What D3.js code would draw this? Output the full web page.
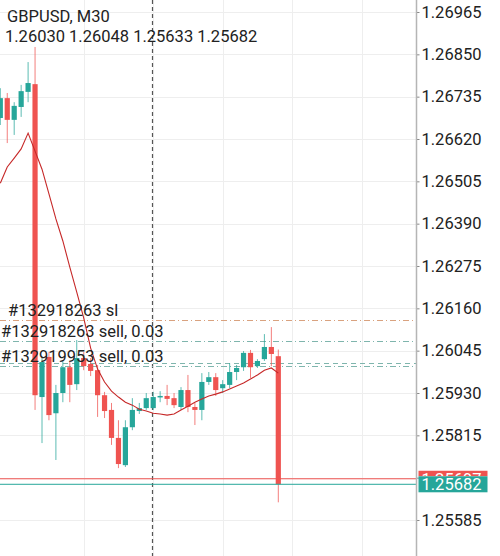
<!DOCTYPE html>
<html>
<head>
<meta charset="utf-8">
<script src="https://cdn.jsdelivr.net/npm/d3@7"></script>
<style>
  html, body { margin: 0; padding: 0; background: #fff; }
  svg { display: block; font-family: Roboto, "Noto Sans", sans-serif; }
</style>
</head>
<body>
<div id="chart"></div>
<script>
// GBPUSD M30 candles, oldest first
const opens  = [1.26677, 1.26731, 1.26672, 1.26707, 1.26748, 1.26769, 1.25919, 1.26028, 1.25875, 1.25930,
                1.26000, 1.25954, 1.26025, 1.26009, 1.25992, 1.25924, 1.25884, 1.25808, 1.25734, 1.25837,
                1.25881, 1.25889, 1.25889, 1.25919, 1.25922, 1.25916, 1.25892, 1.25938, 1.25892, 1.25884,
                1.25960, 1.25973, 1.25943, 1.25952, 1.25987, 1.26000, 1.26039, 1.26003, 1.26022, 1.26055,
                1.26030];
const highs  = [1.26758, 1.26745, 1.26720, 1.26767, 1.26829, 1.26870, 1.26025, 1.26041, 1.25952, 1.26019,
                1.26014, 1.26074, 1.26041, 1.26025, 1.26006, 1.25933, 1.25903, 1.25856, 1.25856, 1.25916,
                1.25903, 1.25930, 1.25933, 1.25935, 1.25952, 1.25930, 1.25946, 1.25979, 1.25903, 1.25984,
                1.25987, 1.25984, 1.25965, 1.26011, 1.26006, 1.26044, 1.26047, 1.26022, 1.26090, 1.26109,
                1.26048];
const lows   = [1.26658, 1.26609, 1.26631, 1.26680, 1.26720, 1.25884, 1.25794, 1.25856, 1.25748, 1.25905,
                1.25905, 1.25938, 1.25992, 1.25976, 1.25865, 1.25862, 1.25789, 1.25726, 1.25729, 1.25829,
                1.25873, 1.25884, 1.25884, 1.25905, 1.25897, 1.25889, 1.25884, 1.25878, 1.25843, 1.25856,
                1.25952, 1.25922, 1.25930, 1.25943, 1.25965, 1.25990, 1.25971, 1.25998, 1.26017, 1.26003,
                1.25633];
const closes = [1.26731, 1.26672, 1.26710, 1.26750, 1.26772, 1.25924, 1.26014, 1.25870, 1.25930, 1.26000,
                1.25952, 1.26025, 1.26003, 1.25990, 1.25924, 1.25881, 1.25808, 1.25737, 1.25837, 1.25884,
                1.25889, 1.25916, 1.25919, 1.25922, 1.25914, 1.25897, 1.25938, 1.25892, 1.25884, 1.25960,
                1.25973, 1.25938, 1.25954, 1.25987, 1.25998, 1.26039, 1.26000, 1.26017, 1.26055, 1.26036,
                1.25682];
// moving average drawn in red
const maValues = [1.26500, 1.26544, 1.26568, 1.26593, 1.26636, 1.26587, 1.26538, 1.26471, 1.26403, 1.26343,
                  1.26272, 1.26204, 1.26134, 1.26052, 1.25995, 1.25960, 1.25935, 1.25919, 1.25905, 1.25897,
                  1.25886, 1.25881, 1.25875, 1.25873, 1.25870, 1.25873, 1.25884, 1.25894, 1.25905, 1.25914,
                  1.25922, 1.25927, 1.25933, 1.25941, 1.25949, 1.25957, 1.25968, 1.25979, 1.25992, 1.25998,
                  1.25984];

const priceTicks = [1.26965, 1.26850, 1.26735, 1.26620, 1.26505, 1.26390, 1.26275,
                    1.26160, 1.26045, 1.25930, 1.25815, 1.25700, 1.25585];
// tick hidden behind the price tags
const hiddenTick = 1.25700;

// trade lines
const orderPrices = [1.26127, 1.26071, 1.26012, 1.26002];
const orderLabels = ["#132918263 sl", "#132918263 sell, 0.03", "", "#132919953 sell, 0.03"];
const orderKinds  = ["sl", "sell", "sell2", "sell"];

const askPrice = 1.25697;
const bidPrice = 1.25682;
const gridIndices = [12, 22, 32, 42, 52];
const separatorIndex = 21.8;

const title = "GBPUSD, M30";
const ohlcText = "1.26030 1.26048 1.25633 1.25682";

const W = 500, H = 556;
const axisX = 416.5;
const up = "#26a69a", down = "#ef5350";
const fontSize = 16.5;

const svg = d3.select("#chart").append("svg")
  .attr("width", W)
  .attr("height", H);

const x = d3.scaleLinear().domain([0, 40]).range([0.3, 278.3]);
const y = d3.scaleLinear().domain([1.25585, 1.26965]).range([520, 12]);

// faint grid
svg.append("g")
  .selectAll("line")
  .data(priceTicks)
  .join("line")
  .attr("x1", 0).attr("x2", axisX)
  .attr("y1", d => Math.round(y(d)) + 0.5)
  .attr("y2", d => Math.round(y(d)) + 0.5)
  .attr("stroke", "#eeeeee");

svg.append("g")
  .selectAll("line")
  .data(gridIndices)
  .join("line")
  .attr("x1", d => Math.round(x(d)) + 0.5)
  .attr("x2", d => Math.round(x(d)) + 0.5)
  .attr("y1", 0).attr("y2", H)
  .attr("stroke", "#eeeeee");

// period separator
svg.append("line")
  .attr("x1", Math.round(x(separatorIndex)) + 0.5)
  .attr("x2", Math.round(x(separatorIndex)) + 0.5)
  .attr("y1", 0).attr("y2", H)
  .attr("stroke", "#555")
  .attr("stroke-width", 1.2)
  .attr("stroke-dasharray", "4,3");

// order lines
const lineStyle = {
  sl:    { color: "#d9a27f", dash: "6,3,1,3" },
  sell:  { color: "#7fb5ad", dash: "6,3,1,3" },
  sell2: { color: "#7fb5ad", dash: "5,4" }
};
svg.append("g")
  .selectAll("line")
  .data(orderPrices)
  .join("line")
  .attr("x1", 0).attr("x2", axisX)
  .attr("y1", d => Math.round(y(d)) + 0.5)
  .attr("y2", d => Math.round(y(d)) + 0.5)
  .attr("stroke", (d, i) => lineStyle[orderKinds[i]].color)
  .attr("stroke-width", 1.2)
  .attr("stroke-dasharray", (d, i) => lineStyle[orderKinds[i]].dash);

// candles
const idx = d3.range(opens.length);
const candles = svg.append("g");
candles.selectAll("line")
  .data(idx)
  .join("line")
  .attr("x1", i => x(i)).attr("x2", i => x(i))
  .attr("y1", i => y(highs[i])).attr("y2", i => y(lows[i]))
  .attr("stroke", i => closes[i] >= opens[i] ? up : down)
  .attr("stroke-opacity", 0.75)
  .attr("stroke-width", 1);

candles.selectAll("rect")
  .data(idx)
  .join("rect")
  .attr("x", i => x(i) - 2.6)
  .attr("width", 5.2)
  .attr("y", i => y(Math.max(opens[i], closes[i])))
  .attr("height", i => Math.max(1.5, Math.abs(y(opens[i]) - y(closes[i]))))
  .attr("fill", i => closes[i] >= opens[i] ? up : down);

// moving average
svg.append("path")
  .datum(maValues)
  .attr("d", d3.line().x((d, i) => x(i)).y(d => y(d)))
  .attr("fill", "none")
  .attr("stroke", "#c62828")
  .attr("stroke-width", 1.1);

// order labels
svg.append("g")
  .selectAll("text")
  .data(orderPrices)
  .join("text")
  .attr("x", (d, i) => orderKinds[i] === "sl" ? 8 : 1)
  .attr("y", d => y(d) - 4.5)
  .attr("font-size", fontSize)
  .attr("fill", "#222")
  .text((d, i) => orderLabels[i]);

// ask / bid lines
svg.append("line")
  .attr("x1", 0).attr("x2", axisX)
  .attr("y1", y(askPrice)).attr("y2", y(askPrice))
  .attr("stroke", down).attr("stroke-width", 1);
svg.append("line")
  .attr("x1", 0).attr("x2", axisX)
  .attr("y1", y(bidPrice)).attr("y2", y(bidPrice))
  .attr("stroke", up).attr("stroke-width", 1);

// right price axis
svg.append("rect")
  .attr("x", axisX).attr("y", 0)
  .attr("width", W - axisX).attr("height", H)
  .attr("fill", "#fff");

const axis = svg.append("g")
  .attr("transform", `translate(${axisX},0)`)
  .call(d3.axisRight(y).tickValues(priceTicks).tickFormat(d3.format(".5f")).tickSize(3).tickPadding(2));
axis.select(".domain").remove();
axis.selectAll(".tick line").attr("stroke", "#888");
axis.selectAll(".tick text")
  .attr("font-size", fontSize)
  .attr("font-family", "Roboto, sans-serif")
  .attr("fill", "#222")
  .text(d => d === hiddenTick ? "" : d3.format(".5f")(d));

svg.append("line")
  .attr("x1", axisX).attr("x2", axisX)
  .attr("y1", 0).attr("y2", H)
  .attr("stroke", "#b5b5b5")
  .attr("stroke-width", 1.5);

// price tags: ask tag mostly covered by the bid tag
svg.append("defs").append("clipPath")
  .attr("id", "askClip")
  .append("rect")
  .attr("x", axisX).attr("y", 0)
  .attr("width", W - axisX).attr("height", y(bidPrice) - 8);

function tag(price, color, clip) {
  const g = svg.append("g");
  if (clip) g.attr("clip-path", `url(#${clip})`);
  g.append("rect")
    .attr("x", axisX + 2).attr("y", y(price) - 8)
    .attr("width", 69).attr("height", 16)
    .attr("fill", color);
  g.append("text")
    .attr("x", axisX + 5).attr("y", y(price))
    .attr("dy", "0.36em")
    .attr("font-size", fontSize)
    .attr("fill", "#fff")
    .text(d3.format(".5f")(price));
}
tag(askPrice, down, "askClip");
tag(bidPrice, up);

// title
svg.append("text")
  .attr("x", 7).attr("y", 22)
  .attr("font-size", fontSize)
  .attr("fill", "#222")
  .text(title);
svg.append("text")
  .attr("x", 5).attr("y", 42)
  .attr("font-size", fontSize)
  .attr("fill", "#222")
  .text(ohlcText);
</script>
</body>
</html>
